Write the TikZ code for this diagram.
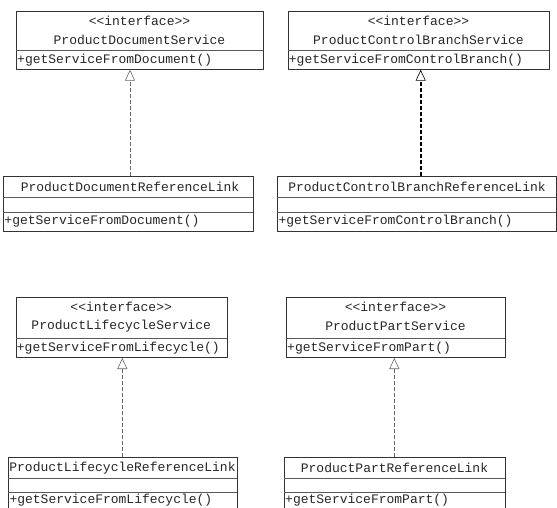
\documentclass[tikz,border=0pt]{standalone}
\usepackage{fontspec}
\setmainfont{Liberation Mono}[Ligatures=TeXOff]
\usetikzlibrary{arrows.meta}
\tikzset{
  x=1pt, y=-1pt,
  classbox/.style={draw=black!80, line width=0.7pt, inner sep=0pt, anchor=north west},
  divider/.style={draw=black!65, line width=0.6pt},
  lbl/.style={inner sep=0pt, font=\fontsize{13}{15}\selectfont, text=black!85},
  meth/.style={lbl, anchor=west},
  realize/.style={draw=black!60, line width=0.6pt, dash pattern=on 4pt off 2pt,
     -{Triangle[open, length=11pt, width=10pt, line width=0.6pt]}},
  realizebold/.style={draw=black, line width=2.4pt, dash pattern=on 4pt off 2pt,
     -{Triangle[open, length=11pt, width=10pt, line width=0.6pt, sep=0pt]}}
}
\begin{document}
\begin{tikzpicture}
\useasboundingbox (0,0) rectangle (557,507);
\clip (0,0) rectangle (557,507);
% ---------- top left ----------
\node[classbox, minimum width=247pt, minimum height=58.3pt] (I1) at (16,10.7) {};
\draw[divider] (16,50.2) -- (263,50.2);
\node[lbl] (I1s) at (139.5,20.7) {<<interface>>};
\node[lbl] (I1n) at (139.5,39.5) {ProductDocumentService};
\node[meth] (I1m) at (17,60) {+getServiceFromDocument()};
\node[classbox, minimum width=249.4pt, minimum height=55pt] (L1) at (3.3,176) {};
\draw[divider] (3.3,197) -- (252.7,197);
\draw[divider] (3.3,212) -- (252.7,212);
\node[lbl] (L1n) at (130,186.5) {ProductDocumentReferenceLink};
\node[meth] (L1m) at (4.3,221.5) {+getServiceFromDocument()};
\coordinate (a1) at (130,176);
\draw[realize] (a1) -- (a1 |- I1.south);
% ---------- top right ----------
\node[classbox, minimum width=261.6pt, minimum height=58.3pt] (I2) at (287.7,10.7) {};
\draw[divider] (287.7,50.2) -- (549.3,50.2);
\node[lbl] (I2s) at (418.5,20.7) {<<interface>>};
\node[lbl] (I2n) at (418.5,39.5) {ProductControlBranchService};
\node[meth] (I2m) at (288.7,60) {+getServiceFromControlBranch()};
\node[classbox, minimum width=278.9pt, minimum height=55pt] (L2) at (277.3,176) {};
\draw[divider] (277.3,197) -- (556.2,197);
\draw[divider] (277.3,212) -- (556.2,212);
\node[lbl] (L2n) at (417,186.5) {ProductControlBranchReferenceLink};
\node[meth] (L2m) at (278.3,221.5) {+getServiceFromControlBranch()};
\coordinate (a2) at (420.7,176);
\draw[realizebold] (a2) -- (a2 |- I2.south);
% ---------- bottom left ----------
\node[classbox, minimum width=211pt, minimum height=60.6pt] (I3) at (15.7,296.7) {};
\draw[divider] (15.7,338.3) -- (226.7,338.3);
\node[lbl] (I3s) at (121.2,306.7) {<<interface>>};
\node[lbl] (I3n) at (121.2,326) {ProductLifecycleService};
\node[meth] (I3m) at (16.7,347.8) {+getServiceFromLifecycle()};
\node[classbox, minimum width=228.4pt, minimum height=62pt] (L3) at (8.3,457.3) {};
\draw[divider] (8.3,478.3) -- (236.7,478.3);
\draw[divider] (8.3,492) -- (236.7,492);
\node[lbl] (L3n) at (122.5,467.8) {ProductLifecycleReferenceLink};
\node[meth] (L3m) at (9.3,500.5) {+getServiceFromLifecycle()};
\coordinate (a3) at (122.3,457.3);
\draw[realize] (a3) -- (a3 |- I3.south);
% ---------- bottom right ----------
\node[classbox, minimum width=219pt, minimum height=60.6pt] (I4) at (286,296.7) {};
\draw[divider] (286,338.3) -- (505,338.3);
\node[lbl] (I4s) at (395.5,306.7) {<<interface>>};
\node[lbl] (I4n) at (395.5,326) {ProductPartService};
\node[meth] (I4m) at (287,347.8) {+getServiceFromPart()};
\node[classbox, minimum width=221pt, minimum height=62pt] (L4) at (284,457.3) {};
\draw[divider] (284,478.3) -- (505,478.3);
\draw[divider] (284,492) -- (505,492);
\node[lbl] (L4n) at (394.5,467.8) {ProductPartReferenceLink};
\node[meth] (L4m) at (285,500.5) {+getServiceFromPart()};
\coordinate (a4) at (394.3,457.3);
\draw[realize] (a4) -- (a4 |- I4.south);
\end{tikzpicture}
\end{document}
